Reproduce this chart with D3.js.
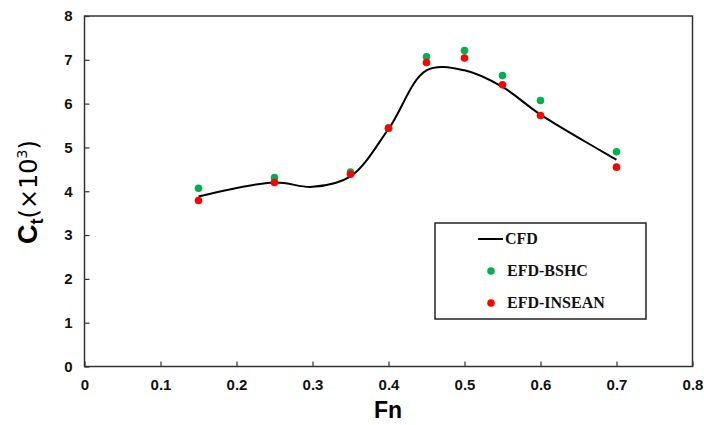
<!DOCTYPE html>
<html>
<head>
<meta charset="utf-8">
<script src="https://cdn.jsdelivr.net/npm/d3@7"></script>
<style>
  body { margin: 0; background: #fff; }
</style>
</head>
<body>
<svg width="704" height="425"></svg>
<script>
// data
var fn = [0.15, 0.25, 0.35, 0.4, 0.45, 0.5, 0.55, 0.6, 0.7];
var bshc = [4.07, 4.31, 4.44, 5.44, 7.07, 7.21, 6.64, 6.07, 4.90];
var insean = [3.79, 4.20, 4.39, 5.44, 6.94, 7.04, 6.43, 5.73, 4.55];
// CFD curve points
var cfdFn = [0.15, 0.25, 0.3, 0.35, 0.4, 0.45, 0.5, 0.55, 0.6, 0.7];
var cfd = [3.88, 4.20, 4.10, 4.34, 5.42, 6.76, 6.76, 6.38, 5.75, 4.72];
var xTicks = [0, 0.1, 0.2, 0.3, 0.4, 0.5, 0.6, 0.7, 0.8];
var yTicks = [0, 1, 2, 3, 4, 5, 6, 7, 8];

var sans = "'Liberation Sans', Arial, sans-serif";
var serif = "'Liberation Serif', 'Times New Roman', serif";

var svg = d3.select("svg");

var x = d3.scaleLinear().domain([0, 0.8]).range([84.5, 692.5]);
var y = d3.scaleLinear().domain([0, 8]).range([366.5, 16]);

// frame
svg.append("rect")
    .attr("x", x(0)).attr("y", y(8))
    .attr("width", x(0.8) - x(0)).attr("height", y(0) - y(8))
    .attr("fill", "none").attr("stroke", "#333").attr("stroke-width", 1.5);

// axes, ticks inward
var xAxis = svg.append("g")
    .attr("transform", "translate(0," + y(0) + ")")
    .call(d3.axisBottom(x).tickValues(xTicks).tickSizeInner(-5).tickSizeOuter(0).tickPadding(13)
        .tickFormat(d => d === 0 ? "0" : d3.format(".1f")(d)));
var yAxis = svg.append("g")
    .attr("transform", "translate(" + x(0) + ",0)")
    .call(d3.axisLeft(y).tickValues(yTicks).tickSizeInner(-5).tickSizeOuter(0).tickPadding(12));

[xAxis, yAxis].forEach(function(a) {
  a.select(".domain").remove();
  a.selectAll("line").attr("stroke", "#333").attr("stroke-width", 1.2);
  a.selectAll("text")
    .style("font-family", sans)
    .attr("font-size", 15).attr("font-weight", "bold").attr("fill", "#111");
});

// CFD curve (smoothed like a spreadsheet line)
var pts = cfdFn.map((d, i) => [x(d), y(cfd[i])]);
svg.append("path")
    .attr("d", d3.line().curve(d3.curveCatmullRom.alpha(0.5))(pts))
    .attr("fill", "none").attr("stroke", "#000").attr("stroke-width", 2);

// experiments
svg.append("g").selectAll("circle")
    .data(fn).enter().append("circle")
    .attr("cx", d => x(d))
    .attr("cy", (d, i) => y(bshc[i]))
    .attr("r", 3.8).attr("fill", "#00b050");
svg.append("g").selectAll("circle")
    .data(fn).enter().append("circle")
    .attr("cx", d => x(d))
    .attr("cy", (d, i) => y(insean[i]))
    .attr("r", 3.8).attr("fill", "#ff0000");

// axis titles
svg.append("text")
    .attr("x", 388).attr("y", 418)
    .attr("text-anchor", "middle")
    .style("font-family", sans)
    .attr("font-size", 23).attr("font-weight", "bold")
    .text("Fn");

var yl = svg.append("text")
    .attr("transform", "translate(37,192) rotate(-90)")
    .attr("text-anchor", "middle")
    .style("font-family", sans);
yl.append("tspan").attr("font-size", 27).attr("font-weight", "bold").text("C");
yl.append("tspan").attr("font-size", 18).attr("font-weight", "bold").attr("dy", 6).text("t");
yl.append("tspan").attr("font-size", 24).attr("dy", -6).style("font-family", "'DejaVu Sans', sans-serif")
    .text("(×10");
yl.append("tspan").attr("font-size", 14).attr("dy", -10).style("font-family", "'DejaVu Sans', sans-serif").text("3");
yl.append("tspan").attr("font-size", 24).attr("dy", 10).style("font-family", "'DejaVu Sans', sans-serif").text(")");

// legend
var lg = svg.append("g");
lg.append("rect")
    .attr("x", 435).attr("y", 223).attr("width", 211).attr("height", 96)
    .attr("fill", "#fff").attr("stroke", "#222").attr("stroke-width", 1.5);
var legendNames = ["CFD", "EFD-BSHC", "EFD-INSEAN"];
var legendY = [239, 271, 303];
lg.append("line")
    .attr("x1", 478).attr("x2", 503).attr("y1", legendY[0]).attr("y2", legendY[0])
    .attr("stroke", "#000").attr("stroke-width", 2);
lg.append("circle").attr("cx", 491).attr("cy", legendY[1]).attr("r", 3.8).attr("fill", "#00b050");
lg.append("circle").attr("cx", 491).attr("cy", legendY[2]).attr("r", 3.8).attr("fill", "#ff0000");
lg.selectAll("text.lab")
    .data(legendNames).enter().append("text")
    .attr("class", "lab")
    .attr("x", (d, i) => i === 0 ? 505 : 507)
    .attr("y", (d, i) => legendY[i] + 5)
    .style("font-family", serif)
    .attr("font-size", 16).attr("font-weight", "bold").attr("fill", "#111")
    .text(d => d);
</script>
</body>
</html>
